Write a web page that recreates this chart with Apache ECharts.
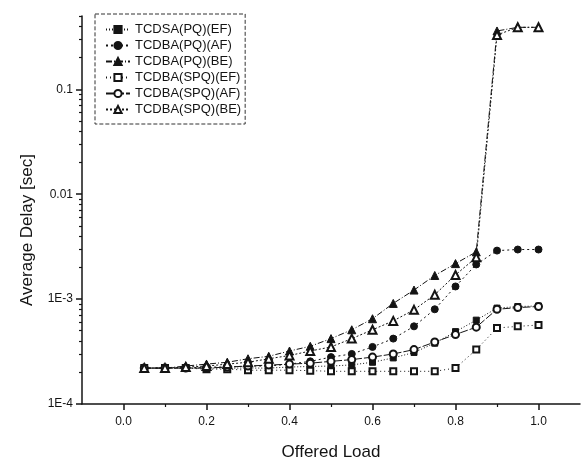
<!DOCTYPE html>
<html>
<head>
<meta charset="utf-8">
<script src="https://cdn.jsdelivr.net/npm/echarts@6/dist/echarts.min.js"></script>
<style>
html,body{margin:0;padding:0;background:#fff;}
#chart{width:584px;height:466px;}
</style>
</head>
<body>
<div id="chart"></div>
<script>
const loads = [0.05,0.1,0.15,0.2,0.25,0.3,0.35,0.4,0.45,0.5,0.55,0.6,0.65,0.7,0.75,0.8,0.85,0.9,0.95,1.0];
const seriesNames = ['TCDSA(PQ)(EF)','TCDBA(PQ)(AF)','TCDBA(PQ)(BE)','TCDBA(SPQ)(EF)','TCDBA(SPQ)(AF)','TCDBA(SPQ)(BE)'];
const pqEF  = [2.2e-4,2.2e-4,2.2e-4,2.2e-4,2.2e-4,2.2e-4,2.2e-4,2.25e-4,2.28e-4,2.3e-4,2.36e-4,2.5e-4,2.75e-4,3.1e-4,3.8e-4,4.9e-4,6.3e-4,8.2e-4,8.5e-4,8.6e-4];
const pqAF  = [2.2e-4,2.2e-4,2.2e-4,2.25e-4,2.25e-4,2.3e-4,2.3e-4,2.4e-4,2.55e-4,2.8e-4,3.0e-4,3.5e-4,4.2e-4,5.5e-4,8.0e-4,1.32e-3,2.14e-3,2.9e-3,2.97e-3,2.97e-3];
const pqBE  = [2.2e-4,2.2e-4,2.3e-4,2.4e-4,2.5e-4,2.7e-4,2.85e-4,3.2e-4,3.55e-4,4.2e-4,5.1e-4,6.5e-4,9.1e-4,1.22e-3,1.68e-3,2.18e-3,2.82e-3,0.36,0.39,0.39];
const spqEF = [2.2e-4,2.2e-4,2.2e-4,2.15e-4,2.15e-4,2.1e-4,2.1e-4,2.1e-4,2.08e-4,2.05e-4,2.05e-4,2.05e-4,2.05e-4,2.05e-4,2.05e-4,2.2e-4,3.3e-4,5.3e-4,5.5e-4,5.66e-4];
const spqAF = [2.2e-4,2.2e-4,2.2e-4,2.2e-4,2.25e-4,2.3e-4,2.35e-4,2.4e-4,2.45e-4,2.55e-4,2.65e-4,2.8e-4,3.0e-4,3.3e-4,3.9e-4,4.6e-4,5.4e-4,8.0e-4,8.3e-4,8.5e-4];
const spqBE = [2.2e-4,2.2e-4,2.25e-4,2.3e-4,2.4e-4,2.5e-4,2.7e-4,2.9e-4,3.2e-4,3.5e-4,4.2e-4,5.1e-4,6.2e-4,7.9e-4,1.1e-3,1.7e-3,2.5e-3,0.33,0.39,0.39];
const xTickLabels = [0, 0.2, 0.4, 0.6, 0.8, 1.0];
const xMinorTicks = [0.1, 0.3, 0.5, 0.7, 0.9];
const yTickValues = [1e-4, 1e-3, 1e-2, 1e-1];
const yMinorTicks = [];
yTickValues.forEach(d => { for (let k = 2; k <= 9; k++) { if (k * d <= 0.5) yMinorTicks.push(+(k * d).toPrecision(2)); } });

const FONT = 'Liberation Sans, Arial, sans-serif';
const INK = '#141414';

function yFmt(v) {
  const e = Math.round(Math.log10(v));
  return e >= -2 ? String(Number(v.toPrecision(1))) : '1E' + e;
}

const chart = echarts.init(document.getElementById('chart'));
const dataSets = [pqEF, pqAF, pqBE, spqEF, spqAF, spqBE];
const symbols = ['rect', 'circle', 'triangle', 'emptyRect', 'emptyCircle', 'emptyTriangle'];
const sizes = [6, 7, 8, 6, 7, 8];
const dashes = [[1, 2], [2, 3], [6, 2, 1, 2], [1, 3], [8, 2], [2, 2]];

const series = dataSets.map((arr, i) => ({
  name: seriesNames[i],
  type: 'line',
  xAxisIndex: 0,
  yAxisIndex: 0,
  data: loads.map((x, j) => [x, arr[j]]),
  symbol: symbols[i],
  symbolSize: sizes[i],
  showAllSymbol: true,
  itemStyle: { color: INK, borderColor: INK, borderWidth: 1 },
  lineStyle: { color: INK, width: 1, type: dashes[i] },
  emphasis: { disabled: true }
}));

chart.setOption({
  animation: false,
  backgroundColor: '#fff',
  grid: { left: 82, right: 4, top: 16, bottom: 60 },
  legend: {
    orient: 'vertical',
    left: 95,
    top: 14,
    padding: [9, 4, 8, 10],
    itemGap: 3,
    itemWidth: 24,
    itemHeight: 9,
    borderColor: '#333',
    borderWidth: 1,
    borderType: 'dashed',
    textStyle: { fontFamily: FONT, fontSize: 13, lineHeight: 11, color: INK },
    data: seriesNames
  },
  xAxis: [
    {
      type: 'value', min: -0.1, max: 1.1, position: 'bottom',
      name: 'Offered Load', nameLocation: 'middle', nameGap: 40,
      nameTextStyle: { fontFamily: FONT, fontSize: 17, color: INK },
      axisLine: { onZero: false, lineStyle: { color: INK, width: 1.5 } },
      axisTick: { customValues: xTickLabels, length: 6, lineStyle: { color: INK, width: 1.5 } },
      axisLabel: { customValues: xTickLabels, margin: 12, fontFamily: FONT, fontSize: 12, color: INK,
        formatter: v => v.toFixed(1) },
      splitLine: { show: false }
    },
    {
      type: 'value', min: -0.1, max: 1.1, position: 'bottom', offset: 0,
      axisLine: { show: true, onZero: false, lineStyle: { color: 'rgba(0,0,0,0)' } },
      axisTick: { show: true, inside: false, customValues: xMinorTicks, length: 3, lineStyle: { color: INK, width: 1.2 } },
      axisLabel: { show: false },
      splitLine: { show: false }
    }
  ],
  yAxis: [
    {
      type: 'log', logBase: 10, min: 1e-4, max: 0.5, position: 'left',
      name: 'Average Delay [sec]', nameLocation: 'middle', nameGap: 46,
      nameTextStyle: { fontFamily: FONT, fontSize: 17, color: INK, padding: [0, 40, 0, 0] },
      axisLine: { onZero: false, lineStyle: { color: INK, width: 1.5 } },
      axisTick: { customValues: yTickValues, length: 6, lineStyle: { color: INK, width: 1.5 } },
      axisLabel: { customValues: yTickValues, margin: 9, fontFamily: FONT, fontSize: 12, color: INK, formatter: yFmt },
      splitLine: { show: false }
    },
    {
      type: 'log', logBase: 10, min: 1e-4, max: 0.5, position: 'left', offset: 0,
      axisLine: { show: true, onZero: false, lineStyle: { color: 'rgba(0,0,0,0)' } },
      axisTick: { show: true, inside: false, customValues: yMinorTicks, length: 3, lineStyle: { color: INK, width: 1.2 } },
      axisLabel: { show: false },
      splitLine: { show: false }
    }
  ],
  series: series
});
</script>
</body>
</html>
